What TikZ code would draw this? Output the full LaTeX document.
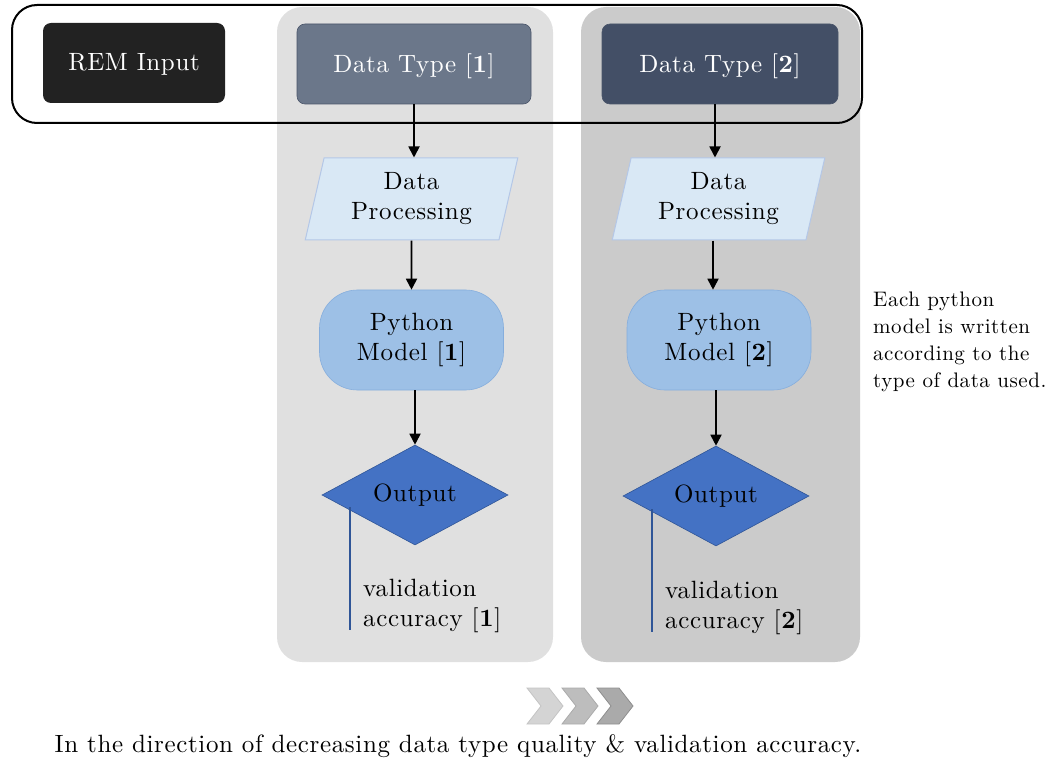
\documentclass[tikz,border=0pt]{standalone}
\usepackage{fontspec}
\setmainfont{lmroman10-regular.otf}[BoldFont=lmroman10-bold.otf, LetterSpace=2.5]
\usetikzlibrary{shapes.geometric,shapes.misc,arrows.meta}
\definecolor{panelA}{HTML}{E0E0E0}
\definecolor{panelB}{HTML}{CBCBCB}
\definecolor{remfill}{HTML}{222222}
\definecolor{dtA}{HTML}{6B778A}
\definecolor{dtB}{HTML}{434F66}
\definecolor{dtborder}{HTML}{4A556A}
\definecolor{dpfill}{HTML}{D9E8F5}
\definecolor{dpborder}{HTML}{B4C7E7}
\definecolor{pmfill}{HTML}{9DC0E6}
\definecolor{pmborder}{HTML}{86AEDD}
\definecolor{outfill}{HTML}{4472C4}
\definecolor{outborder}{HTML}{2F5597}
\tikzset{
  x=1pt,y=-1pt,
  lbl/.style={font=\fontsize{25}{30}\selectfont, align=center, inner sep=0pt},
  panel/.style={rounded corners=25pt, minimum height=655pt, draw=none, inner sep=0pt},
  dtbox/.style={lbl, rounded corners=8pt, minimum width=234pt, minimum height=80pt, text=white, draw=dtborder, line width=0.6pt, text depth=2pt},
  dpbox/.style={lbl, trapezium, trapezium left angle=76, trapezium right angle=104, trapezium stretches=true, minimum width=213pt, minimum height=82pt, fill=dpfill, draw=dpborder, line width=1pt},
  pmbox/.style={lbl, rounded corners=38pt, minimum width=184pt, minimum height=100pt, fill=pmfill, draw=pmborder, line width=0.6pt},
  outbox/.style={lbl, diamond, aspect=1.86, minimum width=186pt, minimum height=100pt, fill=outfill, draw=outborder, line width=0.6pt},
  flow/.style={line width=1.8pt, -{Triangle[length=11pt,width=11pt]}},
  valline/.style={line width=2pt, draw=outborder},
  vallbl/.style={lbl, align=left, anchor=west},
  chev/.style={line width=0.8pt}
}
\begin{document}
\begin{tikzpicture}
\useasboundingbox (0,0) rectangle (1052,759);
% panels
\node[panel, fill=panelA, minimum width=276pt] (p1) at (415,334.5) {};
\node[panel, fill=panelB, minimum width=279pt] (p2) at (720.5,334.5) {};
% frame
\node[draw=black, line width=2pt, rounded corners=25pt, minimum width=850pt, minimum height=118pt, inner sep=0pt] (frame) at (437,64) {};
% top row
\node[lbl, rounded corners=8pt, minimum width=182pt, minimum height=80pt, fill=remfill, text=white, text depth=2pt] (rem) at (134,63) {REM Input};
\node[dtbox, fill=dtA] (dt1) at (414,64) {Data Type [\textbf{1}]};
\node[dtbox, fill=dtB, minimum width=236pt] (dt2) at (720,64) {Data Type [\textbf{2}]};
% column 1
\node[dpbox] (dp1) at (411.5,199) {Data\\Processing};
\node[pmbox] (pm1) at (411.5,340) {Python\\Model [\textbf{1}]};
\node[outbox] (out1) at (415,495) {Output};
% column 2
\node[dpbox] (dp2) at (718.5,199) {Data\\Processing};
\node[pmbox] (pm2) at (719,340) {Python\\Model [\textbf{2}]};
\node[outbox] (out2) at (716,496) {Output};
% arrows
\draw[flow] (dt1.south) -- (dt1.south |- dp1.north);
\draw[flow] (dp1.south) -- (pm1.north);
\draw[flow] (pm1.south -| out1.north) -- (out1.north);
\draw[flow] (dt2.south -| 715,0) -- (715,0 |- dp2.north);
\draw[flow] (dp2.south -| 713,0) -- (713,0 |- pm2.north);
\draw[flow] (pm2.south -| out2.north) -- (out2.north);
% validation lines
\coordinate (v1a) at (350,507);
\coordinate (v1b) at (350,630);
\coordinate (v2a) at (652,509);
\coordinate (v2b) at (652,632);
\draw[valline] (v1a) -- (v1b);
\draw[valline] (v2a) -- (v2b);
\node[vallbl] (val1) at (363,606) {validation\\accuracy [\textbf{1}]};
\node[vallbl] (val2) at (665,608) {validation\\accuracy [\textbf{2}]};
% side note
\node[anchor=north west, align=left, inner sep=0pt, font=\fontsize{21}{27}\selectfont] (note) at (873,292) {Each python\\model is written\\according to the\\type of data used.};
% chevrons
\foreach \cx/\cf/\cd in {527/D4D4D4/C4C4C4, 562/BDBDBD/ABABAB, 597/AAAAAA/8E8E8E}{
  \definecolor{cf}{HTML}{\cf}\definecolor{cd}{HTML}{\cd}
  \filldraw[chev, fill=cf, draw=cd] (\cx,688) -- ++(22,0) -- ++(14,18) -- ++(-14,18) -- ++(-22,0) -- ++(14,-18) -- cycle;
}
\node[lbl] (caption) at (458,746) {In the direction of decreasing data type quality \& validation accuracy.};
\end{tikzpicture}
\end{document}
